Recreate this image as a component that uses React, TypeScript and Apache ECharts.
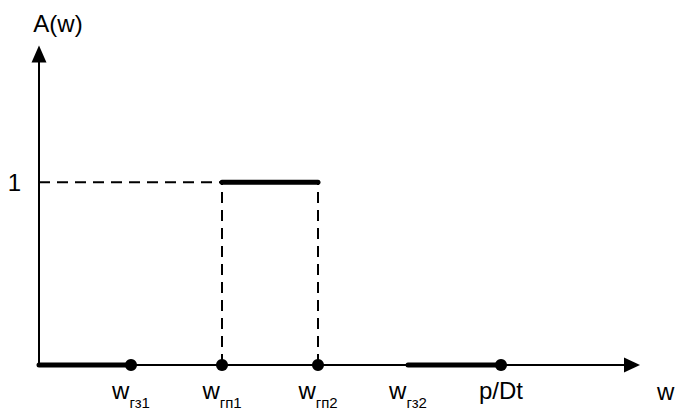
import React, { useEffect, useRef } from "react";
import * as echarts from "echarts";

// Schematic frequency positions (x) and amplitude levels (y)
const tickValues = [92, 183, 279, 369, 462];
const tickLabels = ["w_гз1", "w_гп1", "w_гп2", "w_гз2", "p/Dt"];
const yTickValues = [1];
const yTickLabels = ["1"];
const xAxisName = "w";
const yAxisName = "A(w)";

const passband: number[][] = [[183, 1], [279, 1]];
const stopband1: number[][] = [[0, 0], [92, 0]];
const stopband2: number[][] = [[369, 0], [462, 0]];
const markerPoints: number[][] = [[92, 0], [183, 0], [279, 0], [462, 0]];
const guideH: number[][] = [[0, 1], [183, 1]];
const guideV1: number[][] = [[183, 0], [183, 1]];
const guideV2: number[][] = [[279, 0], [279, 1]];

const X_MAX = 593;
const Y_MAX = 315 / 185;

const FONT = "'Liberation Sans', Arial, sans-serif";

export default function App() {
  const ref = useRef<HTMLDivElement>(null);
  useEffect(() => {
    if (!ref.current) return;
    const chart = echarts.init(ref.current, undefined, { renderer: "svg" });
    const dashStyle = { color: "#000", width: 2, type: [11, 7] as any };
    const thick = { color: "#000", width: 5, cap: "round" as any };
    chart.setOption({
      animation: false,
      backgroundColor: "#fff",
      textStyle: { fontFamily: FONT },
      grid: { left: 39, top: 54, width: X_MAX, height: 315, containLabel: false },
      xAxis: {
        type: "value",
        min: 0,
        max: X_MAX,
        splitLine: { show: false },
        axisTick: { show: false },
        axisLine: {
          show: true,
          symbol: ["none", "triangle"],
          symbolSize: [15, 16],
          lineStyle: { color: "#000", width: 2 },
        },
        axisLabel: {
          customValues: tickValues,
          margin: 13,
          color: "#000",
          verticalAlign: "top",
          formatter: (v: number) => {
            const i = tickValues.indexOf(v);
            if (i < 0) return "";
            const t = tickLabels[i];
            const parts = t.split("_");
            if (parts.length === 2) return `{m|${parts[0]}}{s|${parts[1]}}`;
            return `{m|${t}}`;
          },
          rich: {
            m: { fontSize: 24, lineHeight: 24, verticalAlign: "top", color: "#000", fontFamily: FONT },
            s: { fontSize: 15, lineHeight: 32, verticalAlign: "bottom", color: "#000", fontFamily: FONT },
          },
        },
      },
      yAxis: {
        type: "value",
        min: 0,
        max: Y_MAX,
        name: yAxisName,
        nameLocation: "end",
        nameGap: 19,
        nameTextStyle: { fontSize: 24, color: "#000", fontFamily: FONT, padding: [0, 0, 0, 38] },
        splitLine: { show: false },
        axisTick: { show: false },
        axisLine: {
          show: true,
          symbol: ["none", "triangle"],
          symbolSize: [15, 17],
          lineStyle: { color: "#000", width: 2 },
        },
        axisLabel: {
          customValues: yTickValues,
          margin: 18,
          fontSize: 24,
          color: "#000",
          fontFamily: FONT,
          formatter: (v: number) => {
            const i = yTickValues.indexOf(v);
            return i < 0 ? "" : yTickLabels[i];
          },
        },
      },
      series: [
        { type: "line", data: guideH, symbol: "none", lineStyle: dashStyle, clip: false, z: 2 },
        { type: "line", data: guideV1, symbol: "none", lineStyle: dashStyle, clip: false, z: 2 },
        { type: "line", data: guideV2, symbol: "none", lineStyle: dashStyle, clip: false, z: 2 },
        { type: "line", data: passband, symbol: "none", lineStyle: thick, clip: false, z: 3 },
        { type: "line", data: stopband1, symbol: "none", lineStyle: thick, clip: false, z: 3 },
        { type: "line", data: stopband2, symbol: "none", lineStyle: thick, clip: false, z: 3 },
        {
          type: "scatter",
          data: markerPoints,
          symbol: "circle",
          symbolSize: 12,
          itemStyle: { color: "#000", opacity: 1 },
          clip: false,
          z: 4,
        },
      ],
    });
    const end = chart.convertToPixel({ gridIndex: 0 }, [X_MAX, 0]) as number[];
    chart.setOption({
      graphic: [
        {
          type: "text",
          x: end[0] + 25,
          y: end[1] + 14,
          style: {
            text: xAxisName,
            fontSize: 24,
            fontFamily: FONT,
            fill: "#000",
            align: "left",
            verticalAlign: "top",
          },
        },
      ],
    });
    return () => chart.dispose();
  }, []);
  return (
    <div
      ref={ref}
      style={{ position: "absolute", left: 0, top: 0, width: 675, height: 410 }}
    />
  );
}
